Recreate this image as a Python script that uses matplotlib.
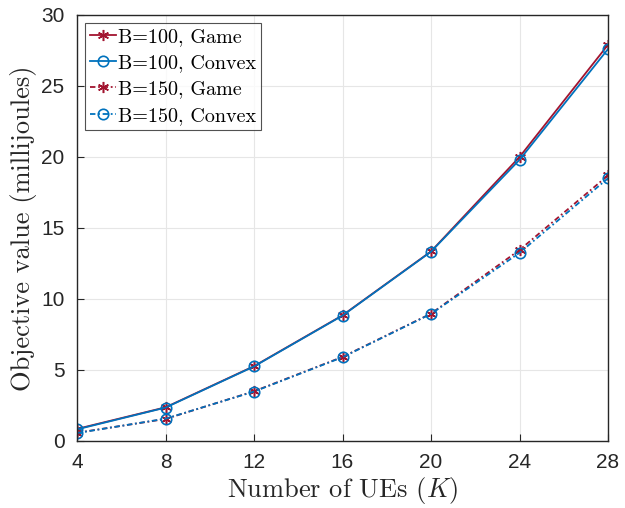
import numpy as np
import matplotlib
matplotlib.use("Agg")
import matplotlib.pyplot as plt

# objective value (mJ) vs number of UEs
K = [4, 8, 12, 16, 20, 24, 28]
b100_game = [0.85, 2.37, 5.27, 8.85, 13.35, 20.0, 27.9]
b100_convex = [0.82, 2.35, 5.25, 8.83, 13.33, 19.8, 27.6]
b150_game = [0.58, 1.55, 3.5, 5.92, 8.97, 13.45, 18.7]
b150_convex = [0.56, 1.57, 3.48, 5.9, 8.95, 13.25, 18.5]
labels = ["B=100, Game", "B=100, Convex", "B=150, Game", "B=150, Convex"]

red = "#A2142F"
blue = "#0072BD"
star = (6, 2, 0)  # asterisk
dashdot = (0, (3, 1.5, 1, 1.5))

plt.rcParams['mathtext.fontset'] = 'cm'
plt.rcParams['font.family'] = ['Liberation Sans', 'DejaVu Sans']

fig = plt.figure(figsize=(6.25, 5.08), dpi=100)
ax = fig.add_axes([0.1232, 0.1319, 0.8496, 0.8386])

ax.plot(K, b100_game, color=red, ls='-', lw=1.3, marker=star, ms=8, mew=1.1, label=labels[0])
ax.plot(K, b100_convex, color=blue, ls='-', lw=1.3, marker='o', ms=7.5, mfc='none', mew=1.2, label=labels[1])
ax.plot(K, b150_game, color=red, ls=dashdot, lw=1.3, marker=star, ms=8, mew=1.1, label=labels[2])
ax.plot(K, b150_convex, color=blue, ls=dashdot, lw=1.3, marker='o', ms=7.5, mfc='none', mew=1.2, label=labels[3])

ax.set_xlim(4, 28)
ax.set_ylim(0, 30)
ax.set_xticks(K)
ax.set_yticks(np.arange(0, 31, 5))
ax.tick_params(direction='in', labelsize=15, length=5, color='#262626', labelcolor='#262626', pad=9)
ax.grid(True, color='#e6e6e6', lw=0.8)
ax.set_axisbelow(True)
for s in ax.spines.values():
    s.set_color('#262626')
    s.set_linewidth(1.0)

ax.set_xlabel(r"Number of UEs ($K$)", fontsize=19, family='cmr10', color='#262626', labelpad=2)
ax.set_ylabel("Objective value (millijoules)", fontsize=19, family='cmr10', color='#262626', labelpad=3)

leg = ax.legend(loc='upper left', prop={'family': 'cmr10', 'size': 14.5}, fancybox=False,
                edgecolor='#262626', handlelength=1.3, handletextpad=0.1, borderpad=0.25,
                labelspacing=0.4, borderaxespad=0.4)
leg.get_frame().set_linewidth(0.8)

fig.savefig("out.png", dpi=100)
